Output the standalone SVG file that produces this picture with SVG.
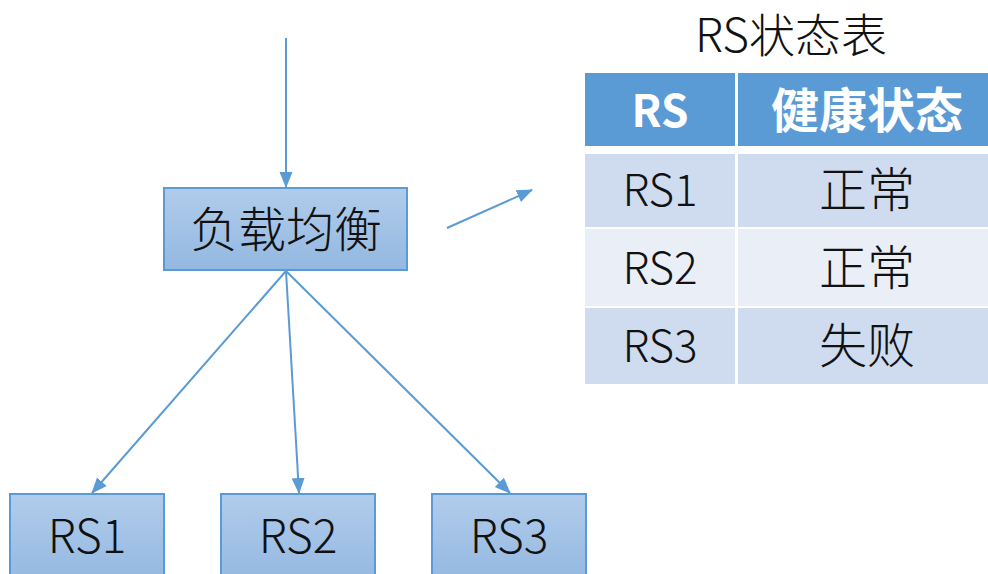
<svg xmlns="http://www.w3.org/2000/svg" width="988" height="574" viewBox="0 0 988 574">
<style>
.box{stroke:#5b9bd5;stroke-width:2;fill:url(#g)}
.t{font-family:"Noto Sans CJK SC","Liberation Sans",sans-serif;text-anchor:middle;fill:#111;font-weight:300}
.h{font-family:"Noto Sans CJK SC","Liberation Sans",sans-serif;text-anchor:middle;fill:#fff;font-weight:bold}
.c{stroke:#5b9bd5;stroke-width:2;fill:none;marker-end:url(#a)}
</style>
<defs>
<linearGradient id="g" x1="0" y1="0" x2="0" y2="1">
<stop offset="0" stop-color="#b1cceb"/>
<stop offset="1" stop-color="#93b8e1"/>
</linearGradient>
<marker id="a" markerUnits="userSpaceOnUse" markerWidth="16" markerHeight="16" viewBox="0 0 16 16" refX="15" refY="8" orient="auto">
<path d="M0,1.5 L16,8 L0,14.5 Z" fill="#5b9bd5"/>
</marker>
</defs>
<g id="connectors">
<line class="c" x1="286" y1="38" x2="286" y2="187"/>
<line class="c" x1="286" y1="271" x2="92" y2="493"/>
<line class="c" x1="286" y1="271" x2="299" y2="493"/>
<line class="c" x1="286" y1="271" x2="510" y2="493"/>
<line class="c" x1="447" y1="228" x2="532" y2="190"/>
</g>
<g id="lb">
<rect class="box" x="164" y="188" width="243" height="82"/>
<text class="t" x="286" y="247" font-size="48">负载均衡</text>
</g>
<g id="rs1">
<rect class="box" x="10" y="494" width="154" height="90"/>
<text class="t" x="87" y="553" font-size="46">RS1</text>
</g>
<g id="rs2">
<rect class="box" x="221" y="494" width="154" height="90"/>
<text class="t" x="298" y="553" font-size="46">RS2</text>
</g>
<g id="rs3">
<rect class="box" x="432" y="494" width="154" height="90"/>
<text class="t" x="509" y="553" font-size="46">RS3</text>
</g>
<g id="table">
<text class="t" x="791" y="52" font-size="46">RS状态表</text>
<rect x="585" y="73" width="403" height="73" fill="#5b9bd5"/>
<rect x="585" y="154" width="403" height="73" fill="#cfdbee"/>
<rect x="585" y="229" width="403" height="77" fill="#e9eef7"/>
<rect x="585" y="308" width="403" height="76" fill="#cfdbee"/>
<rect x="735" y="73" width="3" height="311" fill="#fff"/>
<text class="h" x="660" y="127" font-size="44">RS</text>
<text class="h" x="867" y="128" font-size="48">健康状态</text>
<text class="t" x="660" y="206" font-size="44">RS1</text>
<text class="t" x="867" y="207" font-size="48">正常</text>
<text class="t" x="660" y="284" font-size="44">RS2</text>
<text class="t" x="867" y="285" font-size="48">正常</text>
<text class="t" x="660" y="362" font-size="44">RS3</text>
<text class="t" x="867" y="363" font-size="48">失败</text>
</g>
</svg>
